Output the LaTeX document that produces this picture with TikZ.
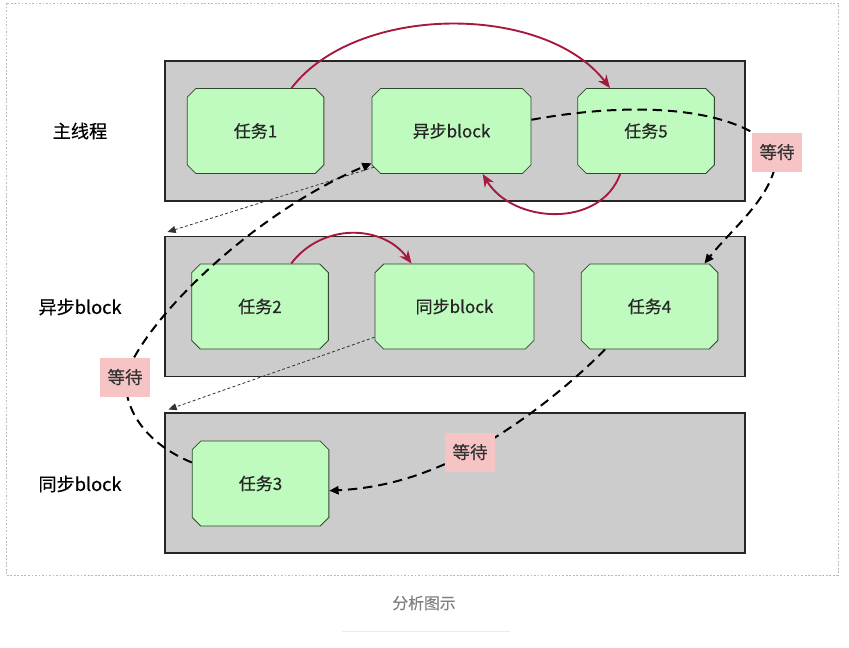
\documentclass[tikz,border=0pt]{standalone}
\usepackage{fontspec}
\newfontfamily\cjk[FakeBold=0.4]{Noto Sans CJK SC}
\usepackage{tikz}
\usetikzlibrary{arrows.meta, shapes.misc, calc, backgrounds}
\definecolor{laneGray}{HTML}{CCCCCC}
\definecolor{taskGreen}{HTML}{BFFABF}
\definecolor{taskEdge}{HTML}{2E4A2E}
\definecolor{callRed}{HTML}{A6183C}
\definecolor{waitPink}{HTML}{F6C4C4}
\tikzset{
    lane box/.style={draw=black!85, fill=laneGray, line width=0.9pt,
      minimum width=17.4cm, minimum height=4.2cm},
    lane label/.style={font=\cjk\fontsize{15.5}{18}\selectfont, text=black},
    task box/.style={chamfered rectangle, chamfered rectangle xsep=0.13cm,
      chamfered rectangle ysep=0.13cm, draw=taskEdge, fill=taskGreen,
      line width=0.7pt, minimum width=4.1cm, minimum height=2.55cm,
      font=\cjk\fontsize{14.5}{17}\selectfont, text=black!85},
    wait tag/.style={fill=waitPink, minimum width=1.5cm, minimum height=1.17cm,
      font=\cjk\fontsize{15}{17}\selectfont, text=black!80},
    call line/.style={line width=1.6pt, draw=callRed,
      -{Stealth[length=11pt, width=9pt]}},
    wait line/.style={line width=1.7pt, draw=black,
      dash pattern=on 8pt off 5pt, -{Triangle[length=8pt, width=7pt]}},
    hint line/.style={line width=0.7pt, draw=black!80,
      dash pattern=on 2.5pt off 2pt, -{Triangle[length=7pt, width=6pt]}}
}

\begin{document}
\begin{tikzpicture}[x=0.03cm, y=-0.03cm]
  \useasboundingbox (0,0) rectangle (849,647);
  \draw [gray!55, dash pattern=on 1.5pt off 1.5pt] (6,3) rectangle (838,575);

  % lanes
  \node [lane box] (lane1) at (455,131) {};
  \node [lane box] (lane2) at (455,306.5) {};
  \node [lane box] (lane3) at (455,483) {};
  \node [lane label] (l1) at (80,131) {主线程};
  \node [lane label] (l2) at (80,307) {异步block};
  \node [lane label] (l3) at (80,484) {同步block};

  % tasks
  \node [task box] (t1) at (255.5,131) {任务1};
  \node [task box, minimum width=4.77cm] (ab) at (451.5,131) {异步block};
  \node [task box] (t5) at (646,131) {任务5};
  \node [task box] (t2) at (260,306.5) {任务2};
  \node [task box, minimum width=4.77cm] (sb) at (454.5,306.5) {同步block};
  \node [task box] (t4) at (649.5,306.5) {任务4};
  \node [task box] (t3) at (260.5,483.5) {任务3};

  % calls
  \draw [call line] (t1.50) .. controls +(65,-85) and +(-65,-85) .. (t5.130);
  \draw [call line] (t5.239) .. controls +(-20,55) and +(30,50) .. (ab.306);
  \draw [call line] (t2.54) .. controls +(30,-40) and +(-30,-40) .. (sb.135);

  % hints
  \draw [hint line] (ab.205) -- ([shift={(3,-4)}]lane2.north west);
  \draw [hint line] (sb.201) -- ([shift={(4,-3)}]lane3.north west);

  % waits
  \coordinate (w1) at (777,152);
  \coordinate (w2) at (125,377);
  \coordinate (w3) at (470,452);
  \draw [wait line] (ab.8) .. controls (640,100) and (740,108) .. (w1)
    .. controls (776,195) and (735,225) .. (t4.38);
  \draw [wait line] (t3.163) .. controls (150,445) and (125,415) .. (w2)
    .. controls (145,320) and (250,215) .. (ab.202);
  \draw [wait line] (t4.224) .. controls (570,385) and (520,425) .. (w3)
    .. controls (420,478) and (380,488) .. (t3.-6);
  \node [wait tag] (wt1) at (w1) {等待};
  \node [wait tag] (wt2) at (w2) {等待};
  \node [wait tag] (wt3) at (w3) {等待};

  \node [font=\cjk\fontsize{13.5}{16}\selectfont, text=black!50] (cap) at (424,603) {分析图示};
  \draw [black!8] ($(cap.south)+(-82,17)$) -- ($(cap.south)+(86,17)$);
\end{tikzpicture}
\end{document}
